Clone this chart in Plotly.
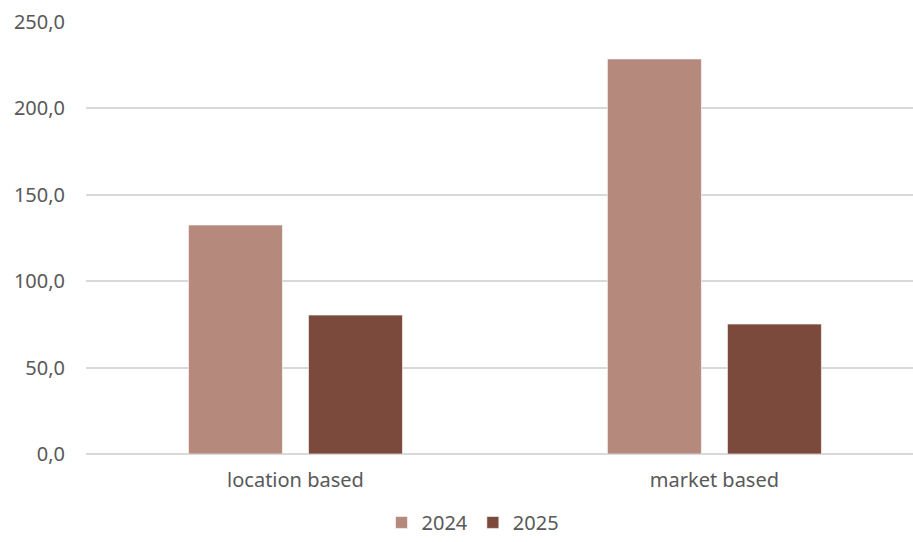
import plotly.graph_objects as go

categories = ["location based", "market based"]
series_names = ["2024", "2025"]
values_2024 = [132.5, 228.6]
values_2025 = [80.4, 75.2]
colors = ["#B5897C", "#7B4A3C"]
y_ticks = [0, 50, 100, 150, 200, 250]

FONT = "'Noto Sans', 'Open Sans', sans-serif"
FS = 20

fig = go.Figure()
for name, vals, col in zip(series_names, [values_2024, values_2025], colors):
    fig.add_trace(go.Bar(
        x=categories, y=vals, name=name,
        marker=dict(color=col, line=dict(color="rgba(255,255,255,0.6)", width=1)),
    ))

fig.update_layout(
    width=913, height=542,
    margin=dict(l=86, r=0, t=22, b=88, autoexpand=False),
    paper_bgcolor="white", plot_bgcolor="white",
    barmode="group", bargap=0.427, bargroupgap=0.217,
    separators=",.",
    font=dict(family=FONT, size=FS, color="#595959"),
    showlegend=True,
    legend=dict(orientation="h", x=0.468, xanchor="center", y=-0.2035, yanchor="bottom",
                font=dict(family=FONT, size=FS, color="#595959"), itemwidth=30,
                tracegroupgap=0, traceorder="normal", bgcolor="rgba(0,0,0,0)"),
    xaxis=dict(range=[-0.5, 1.474], showgrid=False, showline=False, ticks="",
               ticklabelstandoff=12, automargin=False,
               tickfont=dict(family=FONT, size=FS, color="#595959")),
    yaxis=dict(range=[0, 250], tickvals=y_ticks, tickformat=".1f",
               showgrid=True, gridcolor="#D9D9D9", gridwidth=1.5,
               zeroline=True, zerolinecolor="#D9D9D9", zerolinewidth=1.5,
               showline=False, ticks="", ticklabelstandoff=20, automargin=False,
               tickfont=dict(family=FONT, size=FS, color="#595959")),
)

fig.write_html("out.html")
